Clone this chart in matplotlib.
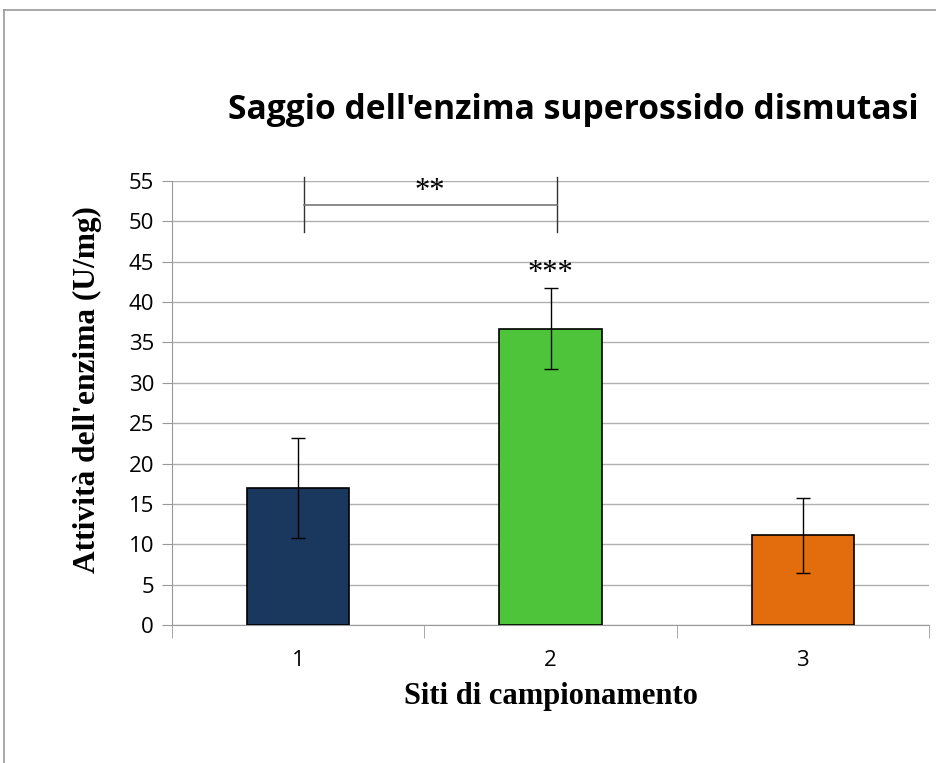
import matplotlib.pyplot as plt
from matplotlib.lines import Line2D

siti = ["1", "2", "3"]
attivita = [17.0, 36.7, 11.1]
errori = [6.2, 5.0, 4.6]
colori = ["#1a375e", "#4dc43a", "#e36c0c"]

fig = plt.figure(figsize=(9.37, 7.63), dpi=100)
ax = fig.add_axes([0.1836, 0.1809, 0.8079, 0.5819])

x = [1, 2, 3]
ax.bar(x, attivita, width=0.405, color=colori, edgecolor="black", linewidth=1.2, zorder=3)
ax.errorbar(x, attivita, yerr=errori, fmt="none", ecolor="black", elinewidth=1,
            capsize=5, capthick=1, zorder=4)

ax.set_xlim(0.5, 3.5)
ax.set_ylim(0, 55)
ax.set_yticks(range(0, 56, 5))
ax.set_xticks(x)
ax.set_xticklabels(siti)
ax.set_xticks([0.5, 1.5, 2.5, 3.5], minor=True)
ax.tick_params(axis="x", which="major", length=0, pad=18, labelsize=16)
ax.tick_params(axis="x", which="minor", length=9, color="#999999", direction="out")
ax.tick_params(axis="y", length=7, color="#999999", labelsize=16, pad=6)
for lab in ax.get_xticklabels() + ax.get_yticklabels():
    lab.set_family("Open Sans")

ax.grid(axis="y", color="#b0b0b0", linewidth=1, zorder=0)
for s in ["top", "right"]:
    ax.spines[s].set_visible(False)
ax.spines["left"].set_color("#999999")
ax.spines["bottom"].set_color("#999999")

# significativita
ax.plot([1.024, 2.024], [52, 52], color="#777777", linewidth=1.2, zorder=4)
ax.plot([1.024, 1.024], [48.7, 55.5], color="#333333", linewidth=1, clip_on=False)
ax.plot([2.024, 2.024], [48.7, 55.5], color="#333333", linewidth=1, clip_on=False)
ax.text(1.52, 53.7, "**", ha="center", va="center", fontsize=22, family="Liberation Serif")
ax.text(2.0, 43.6, "***", ha="center", va="center", fontsize=22, family="Liberation Serif")

ax.set_ylabel("Attività dell'enzima (U/mg)", family="Liberation Serif", fontweight="bold",
              fontsize=22.6)
ax.yaxis.set_label_coords(-0.092, 0.530)
ax.set_xlabel("Siti di campionamento", family="Liberation Serif", fontweight="bold",
              fontsize=22, labelpad=8)
fig.text(0.6115, 0.856, "Saggio dell'enzima superossido dismutasi", ha="center", va="center",
         family="Open Sans", fontweight="bold", fontsize=24.2)

# bordo
fig.add_artist(Line2D([0.0043, 1.0], [0.987, 0.987], color="#999999", linewidth=1.2))
fig.add_artist(Line2D([0.0043, 0.0043], [0.0, 0.987], color="#999999", linewidth=1.2))

fig.savefig("out.png", dpi=100)
